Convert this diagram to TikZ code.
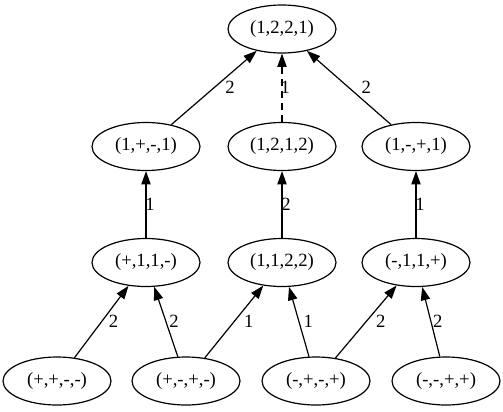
\documentclass[tikz,border=0pt]{standalone}
\usepackage{fontspec}
\setmainfont{Liberation Serif}
\usetikzlibrary{
    shapes.geometric,   % ellipse nodes
    arrows.meta         % Triangle arrowheads
}

\begin{document}
\begin{tikzpicture}[x=0.75pt, y=-0.75pt,
        state/.style={draw, ellipse, line width=0.9pt, minimum width=81pt, minimum height=36pt,
            inner sep=0pt, font=\fontsize{14pt}{16pt}\selectfont},
        edge/.style={-{Triangle[length=10pt,width=7pt]}, line width=0.9pt},
        lab/.style={font=\fontsize{14pt}{16pt}\selectfont, inner sep=0pt}]
        \useasboundingbox (0,0) rectangle (503,411);

        % Top
        \node[state] (t1221) at (282,29) {(1,2,2,1)};

        % Second row
        \node[state] (s1pm1) at (146,146.5) {(1,+,-,1)};
        \node[state] (s1212) at (282,146.5) {(1,2,1,2)};
        \node[state] (s1mp1) at (416,146.5) {(1,-,+,1)};

        % Third row
        \node[state] (rp11m) at (146,262.5) {(+,1,1,-)};
        \node[state] (r1122) at (282,262.5) {(1,1,2,2)};
        \node[state] (rm11p) at (416,262.5) {(-,1,1,+)};

        % Bottom row
        \node[state] (bppmm) at (57,381) {(+,+,-,-)};
        \node[state] (bpmpm) at (186,381) {(+,-,+,-)};
        \node[state] (bmpmp) at (316,381) {(-,+,-,+)};
        \node[state] (bmmpp) at (446,381) {(-,-,+,+)};

        % Edges into the top
        \draw[edge] (s1pm1) -- node[lab, xshift=12pt] {2} (t1221);
        \draw[edge, dash pattern=on 5pt off 4pt] (s1212) -- node[lab, xshift=2.5pt] {1} (t1221);
        \draw[edge] (s1mp1) -- node[lab, xshift=13pt] {2} (t1221);

        % Third row to second row
        \draw[edge] (rp11m) -- node[lab, xshift=3pt] {1} (s1pm1);
        \draw[edge] (r1122) -- node[lab, xshift=3pt] {2} (s1212);
        \draw[edge] (rm11p) -- node[lab, xshift=3pt] {1} (s1mp1);

        % Bottom row to third row
        \draw[edge] (bppmm) -- node[lab, xshift=9pt] {2} (rp11m);
        \draw[edge] (bpmpm) -- node[lab, xshift=6pt] {2} (rp11m);
        \draw[edge] (bpmpm) -- node[lab, xshift=11pt] {1} (r1122);
        \draw[edge] (bmpmp) -- node[lab, xshift=7pt] {1} (r1122);
        \draw[edge] (bmpmp) -- node[lab, xshift=11pt] {2} (rm11p);
        \draw[edge] (bmmpp) -- node[lab, xshift=5pt] {2} (rm11p);
    \end{tikzpicture}
\end{document}
